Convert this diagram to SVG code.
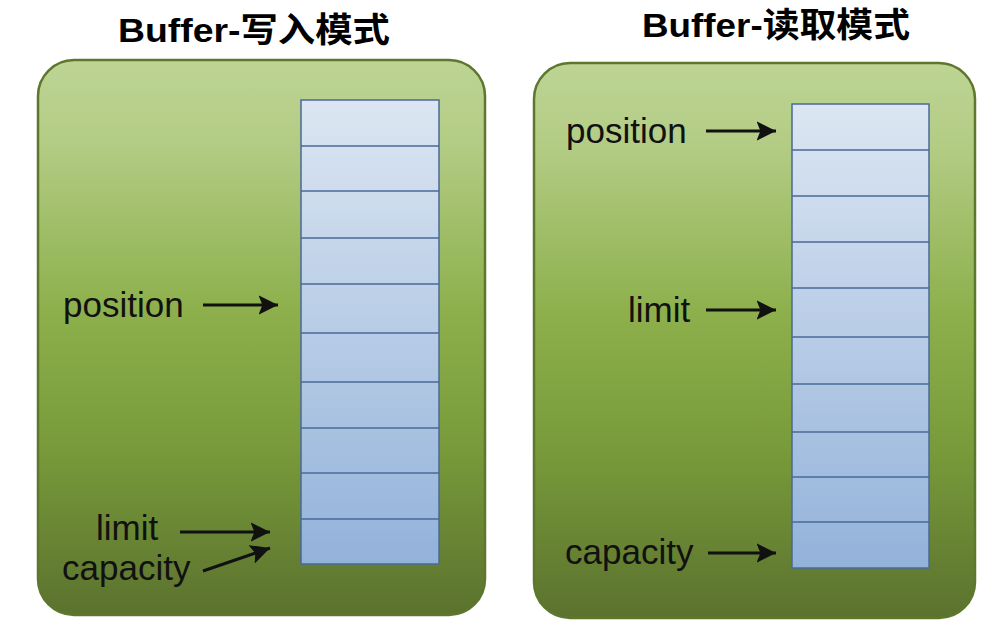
<svg xmlns="http://www.w3.org/2000/svg" width="990" height="630" viewBox="0 0 990 630">
<defs>
<linearGradient id="panel" x1="0" y1="0" x2="0" y2="1">
<stop offset="0" stop-color="#bdd494"/>
<stop offset="0.15" stop-color="#b3cc84"/>
<stop offset="0.45" stop-color="#8db04c"/>
<stop offset="0.7" stop-color="#789a3a"/>
<stop offset="1" stop-color="#5b722e"/>
</linearGradient>
<linearGradient id="cell" x1="0" y1="0" x2="0" y2="1">
<stop offset="0" stop-color="#dce6f2"/>
<stop offset="1" stop-color="#93b2da"/>
</linearGradient>
<marker id="ah" viewBox="0 0 10 10" refX="10" refY="5" markerWidth="6.5" markerHeight="6.5" markerUnits="strokeWidth" orient="auto">
<path d="M0,0 L10,5 L0,10 L2,5 z" fill="#111"/>
</marker>
<style>
.panel{fill:url(#panel);stroke:#5d782c;stroke-width:2.5}
.buf{fill:url(#cell);stroke:#4a6a98;stroke-width:1.5}
.div{stroke:#4a6a98;stroke-width:1.5}
.title{font-family:"Liberation Sans","Noto Sans CJK SC",sans-serif;font-weight:bold;font-size:34px;fill:#000}
.lbl{font-family:"Liberation Sans",Arial,sans-serif;font-size:35px;fill:#111}
.arr{stroke:#111;stroke-width:3;fill:none;marker-end:url(#ah)}
</style>
</defs>
<g id="left-title"><text class="title" x="118" y="42" textLength="272" lengthAdjust="spacingAndGlyphs">Buffer-写入模式</text></g>
<g id="right-title"><text class="title" x="642" y="37" textLength="268" lengthAdjust="spacingAndGlyphs">Buffer-读取模式</text></g>
<g id="left-panel">
<rect class="panel" x="38" y="60" width="447" height="555" rx="36"/>
<rect class="buf" x="301" y="100" width="138" height="464"/>
<path class="div" d="M301,146H439M301,191H439M301,238H439M301,284H439M301,333H439M301,382H439M301,428H439M301,473H439M301,519H439"/>
</g>
<g id="right-panel">
<rect class="panel" x="534" y="63" width="441" height="555" rx="36"/>
<rect class="buf" x="792" y="104" width="137" height="464"/>
<path class="div" d="M792,150H929M792,196H929M792,242H929M792,288H929M792,337H929M792,384H929M792,432H929M792,477H929M792,522H929"/>
</g>
<g id="left-labels">
<text class="lbl" x="63" y="317">position</text>
<text class="lbl" x="96" y="540">limit</text>
<text class="lbl" x="62" y="580">capacity</text>
</g>
<g id="right-labels">
<text class="lbl" x="566" y="143">position</text>
<text class="lbl" x="628" y="322">limit</text>
<text class="lbl" x="565" y="564">capacity</text>
</g>
<g id="connectors">
<line class="arr" x1="203" y1="305" x2="278" y2="305"/>
<line class="arr" x1="180" y1="532" x2="270" y2="532"/>
<line class="arr" x1="203" y1="571" x2="270" y2="548"/>
<line class="arr" x1="706" y1="131" x2="776" y2="131"/>
<line class="arr" x1="706" y1="310" x2="776" y2="310"/>
<line class="arr" x1="708" y1="553" x2="776" y2="553"/>
</g>
</svg>
